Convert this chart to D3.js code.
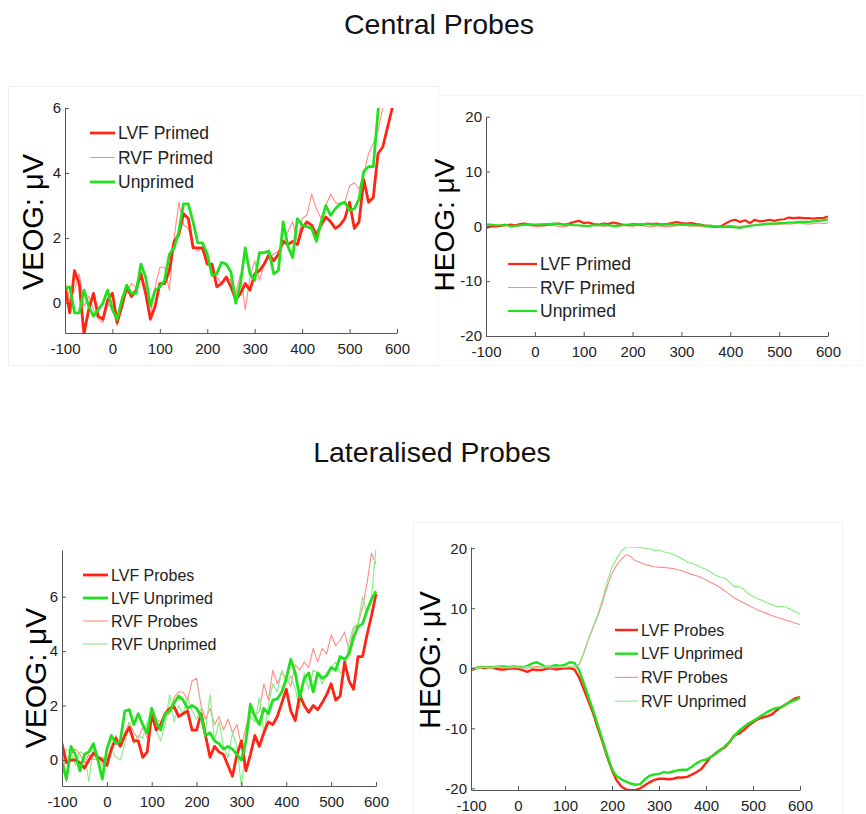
<!DOCTYPE html>
<html>
<head>
<meta charset="utf-8">
<script src="https://cdn.jsdelivr.net/npm/d3@7/dist/d3.min.js"></script>
<style>
  html, body { margin: 0; padding: 0; background: #fff; }
  svg { display: block; font-family: "Liberation Sans", Arial, Helvetica, sans-serif; }
</style>
</head>
<body>
<svg id="fig" width="866" height="814"></svg>
<script>
// Time axis (ms), sampled every 10 ms
const times = d3.range(-100, 601, 10);
const xTicks = [-100, 0, 100, 200, 300, 400, 500, 600];

// ---- Central probes, VEOG (µV) ----
const centralVeogLvfPrimed = [0.5,-0.3,1.0,0.6,-0.95,-0.2,0.3,-0.4,-0.5,0.1,
  0.3,-0.6,-0.1,0.5,0.2,0.4,0.9,0.3,-0.5,-0.1,
  0.6,0.6,1.0,1.9,2.1,2.75,2.6,1.7,1.7,1.7,
  1.2,1.2,0.5,0.6,0.8,0.5,0.1,0.3,0.6,0.4,
  0.9,1.0,1.2,1.5,1.3,1.5,1.9,1.8,1.9,1.8,
  2.3,2.5,2.4,2.1,2.4,2.65,2.5,2.3,2.4,2.6,
  3.1,2.3,2.5,3.8,3.1,3.25,4.6,4.8,5.4,6.0,
  6.6];
const centralVeogRvfPrimed = [0.7,0.1,0.4,0.9,-0.1,0.2,-0.2,-0.5,-0.6,0.0,
  -0.2,-0.7,0.2,0.3,0.6,0.5,1.0,0.4,-0.4,0.5,
  1.1,1.1,0.4,2.0,3.1,2.4,2.3,1.8,1.6,1.7,
  1.4,1.0,0.8,0.6,0.8,0.7,0.3,0.9,-0.2,0.8,
  1.3,0.7,1.2,1.4,1.5,1.6,1.8,2.2,2.5,1.9,
  2.6,2.7,3.35,2.9,2.6,3.0,3.35,3.1,3.0,3.1,
  3.6,3.7,3.5,4.0,4.6,4.9,5.3,6.0,6.6,7.1,
  7.5];
const centralVeogUnprimed = [0.45,0.5,-0.3,-0.3,0.4,-0.1,-0.4,-0.2,0.0,0.4,
  -0.2,-0.5,0.1,0.55,0.3,0.3,1.2,0.8,-0.1,0.4,
  0.5,0.7,1.5,1.7,2.2,3.05,3.05,2.5,1.85,1.85,
  1.5,0.85,0.9,1.25,1.2,0.95,0.0,0.6,1.7,0.9,
  0.7,1.55,1.55,1.6,0.9,1.0,2.5,1.75,1.4,2.6,
  2.4,2.35,2.3,1.9,2.5,3.0,2.7,2.9,3.05,3.1,
  2.85,2.9,3.2,4.05,4.2,4.2,5.9,7.0,7.8,8.3,
  8.7];

// ---- Central probes, HEOG (µV) ----
const centralHeogLvfPrimed = [-0.3,0,0,0.1,0.2,0.3,0.2,0.4,0.5,0.3,
  0.2,0.3,0.2,0.4,0.4,0.5,0.3,0.5,0.8,1.0,
  0.6,0.7,0.4,0.3,0.5,0.4,0.7,0.5,0.3,0.2,
  0.4,0.3,0.3,0.5,0.4,0.5,0.3,0.4,0.6,0.8,
  0.6,0.5,0.6,0.4,0.3,0.1,0.1,-0.1,0,0.5,
  1.0,1.2,0.8,1.1,0.6,1.2,0.9,1.0,1.2,1.0,
  1.2,1.3,1.6,1.5,1.6,1.5,1.5,1.4,1.5,1.5,
  1.8];
const centralHeogRvfPrimed = [0.1,0,-0.1,0.1,0.2,0.1,0,0.1,0.2,0.1,
  0,-0.1,0.1,0.2,0.1,0,-0.1,0.1,0.2,0.1,
  0,0.1,0.2,0.1,0,0.1,0.2,0.1,0.2,0.1,
  0,0.2,0.1,0,-0.1,0.1,0,-0.1,0,0.1,
  0.2,0.1,0,0.1,0,-0.1,-0.2,-0.1,0,0.1,
  0.2,0.1,0,0.1,0.2,0.3,0.2,0.3,0.4,0.3,
  0.4,0.5,0.4,0.5,0.6,0.5,0.4,0.5,0.6,0.5,
  0.6];
const centralHeogUnprimed = [0.3,0.3,0.2,0.2,0.3,0,0.1,0.2,0.3,0.3,
  0.3,0.3,0.4,0.4,0.5,0.4,0.3,0.3,0.2,0.2,
  0.1,0.1,0.2,0.2,0.3,0.2,0.1,0.1,0.2,0.3,
  0.3,0.3,0.4,0.4,0.3,0.3,0.4,0.3,0.3,0.3,
  0.3,0.3,0.3,0.2,0.2,0.1,0.1,0,-0.1,-0.1,
  -0.1,-0.2,-0.3,-0.1,0.1,0.2,0.3,0.4,0.5,0.5,
  0.6,0.6,0.7,0.7,0.8,0.8,0.8,0.9,1.0,1.1,
  1.3];

// ---- Lateralised probes, VEOG (µV) ----
const latVeogLvfProbes = [0.6,-0.1,0.0,0.0,-0.1,-0.3,0.0,0.25,0.1,0.0,
  -0.2,0.4,0.8,0.5,0.9,1.2,0.7,0.7,0.1,0.3,
  1.7,1.1,1.3,1.7,1.9,1.95,1.6,1.7,1.8,1.1,
  1.1,1.7,0.9,0.1,0.5,0.3,0.2,-0.2,-0.6,0.2,
  0.7,-0.4,0.2,0.9,0.5,1.0,1.4,1.3,1.6,2.1,
  2.6,1.8,1.45,2.4,2.0,1.75,2.0,1.85,2.1,2.4,
  2.8,2.2,2.35,3.6,2.9,2.6,3.8,3.8,4.6,5.3,
  6.1];
const latVeogLvfUnprimed = [-0.1,-0.7,0.5,0.2,-0.4,0.2,0.3,0.6,0.0,-0.7,
  0.4,0.9,0.6,0.7,1.8,1.85,1.3,1.7,1.3,1.0,
  1.9,1.4,1.1,1.7,1.8,2.1,2.35,2.2,1.9,2.0,
  1.9,1.6,0.9,1.0,0.7,0.6,0.4,0.5,0.4,0.2,
  0.0,0.7,2.05,1.6,1.3,1.9,1.7,2.2,2.25,2.5,
  3.0,3.7,3.2,2.3,3.0,3.2,2.5,3.2,3.0,3.1,
  3.4,3.3,3.8,3.7,3.9,4.5,4.9,5.0,5.5,5.9,
  6.2];
const latVeogRvfProbes = [0.5,-0.8,0.2,0.4,0.2,-0.1,0.2,0.0,0.1,0.1,
  0.0,0.3,0.9,0.5,1.0,1.4,1.0,0.8,1.2,0.8,
  1.7,1.5,1.4,1.6,1.7,2.3,2.5,2.5,2.2,2.9,
  3.0,2.0,1.5,1.9,1.3,1.6,1.1,1.5,1.0,1.3,
  0.5,1.2,1.8,1.6,1.8,2.8,2.2,3.3,2.8,3.2,
  3.0,2.7,3.5,3.3,3.6,3.4,4.1,3.6,4.1,3.9,
  4.6,4.2,4.4,4.7,4.0,4.8,5.0,5.6,6.5,7.6,
  7.2];
const latVeogRvfUnprimed = [-0.5,0.4,0.3,-0.2,0.3,0.2,-0.8,0.5,0.2,-0.2,
  0.1,0.4,0.1,0.0,0.6,1.4,0.6,0.9,0.8,1.4,
  1.5,1.1,0.7,1.3,2.4,1.4,2.0,1.7,2.3,1.8,
  1.5,1.9,1.1,2.4,0.7,1.4,0.5,0.1,1.0,0.5,
  -1.0,0.6,1.6,1.4,2.3,1.0,2.0,2.8,2.5,3.3,
  2.8,3.1,2.6,1.9,3.2,2.6,3.3,3.2,2.8,3.2,
  3.4,3.6,3.2,3.3,4.3,4.9,5.0,6.0,5.4,6.0,
  7.8];

// ---- Lateralised probes, HEOG (µV) ----
const latHeogLvfProbes = [-0.3,0,0.2,0,0.2,0,-0.2,-0.2,-0.1,0,
  -0.1,-0.3,-0.6,-0.2,-0.3,-0.3,-0.1,0,-0.2,-0.1,
  0,0,-0.2,-1.5,-3.5,-5.5,-7.5,-10,-12.3,-14.8,
  -17,-18.7,-19.7,-20.2,-20.3,-20.3,-20,-19.5,-19,-18.6,
  -18.4,-18.4,-18.5,-18.4,-18.2,-18.2,-18.1,-17.7,-17.3,-16.8,
  -15.8,-14.8,-14.2,-13.6,-13.2,-12.3,-11.2,-10.9,-10.3,-9.6,
  -9,-8.5,-8.2,-8,-7.7,-7,-6.5,-6,-5.5,-5,
  -4.8];
const latHeogLvfUnprimed = [-0.2,0,0.2,0.2,0.1,0.2,0.3,0.3,0.2,0.3,
  0.2,0.2,0.4,0.8,1.0,0.6,0.2,0.3,0.5,0.4,
  0.6,1.0,0.9,-0.3,-2.5,-4.8,-7,-9.5,-12,-14.5,
  -16.8,-18,-18.5,-18.9,-19.2,-19.4,-19.3,-18.5,-17.9,-17.7,
  -17.6,-17.3,-17.4,-17.2,-17,-16.9,-16.9,-16.4,-15.8,-15.4,
  -15.2,-14.8,-14.3,-13.7,-13,-12.3,-11.3,-10.4,-9.8,-9.2,
  -8.8,-8.3,-7.8,-7.3,-6.9,-6.6,-6.5,-6.0,-5.6,-5.3,
  -4.9];
const latHeogRvfProbes = [0,0.1,0.2,0.1,0,0.1,0.2,0.1,0,0.1,
  0.2,0.1,0,0.2,0.3,0.2,0.1,0,0.1,0.2,
  0.1,0.2,0.2,0.5,2.5,4.8,6.8,8.7,11,13.7,
  15.8,17.2,18.2,18.9,18.6,17.9,17.6,17.3,17.1,16.9,
  16.8,16.8,16.7,16.6,16.4,16.2,15.9,15.6,15.4,15.1,
  14.7,14.3,13.9,13.4,12.9,12.3,11.7,11.3,10.9,10.5,
  10.1,9.7,9.4,9.1,8.8,8.5,8.3,8.0,7.8,7.5,
  7.3];
const latHeogRvfUnprimed = [-0.2,0,0.1,0.2,0.1,0.2,0.3,0.1,0.2,0.3,
  0.1,0.2,0.3,0.2,0.1,0.2,0.4,0.3,0.2,0.3,
  0.2,0.3,0.4,0.7,2.7,5.0,7.0,9.0,11.5,14.5,
  16.8,18.3,19.5,20.2,20.2,20.2,20.1,20.0,19.9,19.6,
  19.7,19.4,19.2,19.0,18.6,18.2,17.7,17.5,17.2,16.8,
  16.5,16.0,15.5,15.2,15.0,14.4,13.6,13.6,13.2,12.4,
  12.0,11.6,11.3,10.9,10.6,10.3,10.3,10.2,9.8,9.4,
  9.0];

// Line styles
const RED = "#ff2414", PINK = "#ff8c86", GREEN = "#22e01e", LGREEN = "#86ec82";
const thick = 2.8, thin = 1.1;

const svg = d3.select("#fig");

// Faint frames around three of the panels
[[8, 86, 430, 279, "#efefef"], [438, 95, 424, 270, "#f5f5f5"], [413, 522, 429, 292, "#f2f2f2"]]
  .forEach(([x, y, w, h, c]) => svg.append("rect").attr("x", x + 0.5).attr("y", y + 0.5)
    .attr("width", w).attr("height", h).attr("fill", "none").attr("stroke", c));

// Section titles
svg.append("text").attr("x", 439).attr("y", 34).attr("text-anchor", "middle")
  .attr("font-size", 28.5).attr("fill", "#111").text("Central Probes");
svg.append("text").attr("x", 432).attr("y", 462).attr("text-anchor", "middle")
  .attr("font-size", 28.5).attr("fill", "#111").text("Lateralised Probes");

const panels = [
  { id: "p1", x0: 65, x1: 397, yTop: 108, yBot: 333, dom: [-0.92, 6], yTicks: [0, 2, 4, 6],
    ylab: "VEOG: \u03bcV", ylx: 33, yly: 222, ylSize: 29,
    leg: { lx0: 90, lx1: 115, ty: 133, dy: 24.5, size: 17.5 },
    series: [
      { name: "LVF Primed", v: centralVeogLvfPrimed, c: RED, w: thick },
      { name: "RVF Primed", v: centralVeogRvfPrimed, c: PINK, w: thin },
      { name: "Unprimed", v: centralVeogUnprimed, c: GREEN, w: thick }],
    order: [1, 0, 2] },
  { id: "p2", x0: 486, x1: 828, yTop: 116.7, yBot: 336, dom: [-20, 20], yTicks: [-20, -10, 0, 10, 20],
    ylab: "HEOG: \u03bcV", ylx: 444, yly: 225, ylSize: 28,
    leg: { lx0: 508, lx1: 537, ty: 264, dy: 23.5, size: 17.5 },
    series: [
      { name: "LVF Primed", v: centralHeogLvfPrimed, c: RED, w: 2.2 },
      { name: "RVF Primed", v: centralHeogRvfPrimed, c: PINK, w: thin },
      { name: "Unprimed", v: centralHeogUnprimed, c: GREEN, w: 2.2 }],
    order: [1, 0, 2] },
  { id: "p3", x0: 62, x1: 376, yTop: 550, yBot: 786, dom: [-0.955, 7.715], yTicks: [0, 2, 4, 6],
    ylab: "VEOG: \u03bcV", ylx: 35, yly: 678, ylSize: 30,
    leg: { lx0: 83, lx1: 108, ty: 575, dy: 23, size: 16 },
    series: [
      { name: "LVF Probes", v: latVeogLvfProbes, c: RED, w: thick },
      { name: "LVF Unprimed", v: latVeogLvfUnprimed, c: GREEN, w: thick },
      { name: "RVF Probes", v: latVeogRvfProbes, c: PINK, w: thin },
      { name: "RVF Unprimed", v: latVeogRvfUnprimed, c: LGREEN, w: thin }],
    order: [2, 3, 0, 1] },
  { id: "p4", x0: 471, x1: 800, yTop: 547, yBot: 790, dom: [-20.28, 20.2], yTicks: [-20, -10, 0, 10, 20],
    ylab: "HEOG: \u03bcV", ylx: 430, yly: 660, ylSize: 29,
    leg: { lx0: 615, lx1: 638, ty: 630, dy: 23.7, size: 16 },
    series: [
      { name: "LVF Probes", v: latHeogLvfProbes, c: RED, w: 2.4 },
      { name: "LVF Unprimed", v: latHeogLvfUnprimed, c: GREEN, w: 2.4 },
      { name: "RVF Probes", v: latHeogRvfProbes, c: PINK, w: thin },
      { name: "RVF Unprimed", v: latHeogRvfUnprimed, c: LGREEN, w: thin }],
    order: [0, 1, 2, 3] }
];

// Plain integer labels with an ASCII hyphen for negatives
const intLabel = d => String(d);

panels.forEach(p => {
  const x = d3.scaleLinear().domain([-100, 600]).range([p.x0, p.x1]);
  const y = d3.scaleLinear().domain(p.dom).range([p.yBot, p.yTop]);
  const g = svg.append("g");

  g.append("clipPath").attr("id", "clip-" + p.id).append("rect")
    .attr("x", p.x0).attr("y", p.yTop).attr("width", p.x1 - p.x0 + 2).attr("height", p.yBot - p.yTop);

  const line = d3.line().x((d, i) => x(times[i])).y(d => y(d));
  const lines = g.append("g").attr("clip-path", `url(#clip-${p.id})`);
  p.order.forEach(k => {
    const s = p.series[k];
    lines.append("path").datum(s.v).attr("d", line).attr("fill", "none")
      .attr("stroke", s.c).attr("stroke-width", s.w).attr("stroke-linejoin", "round");
  });

  // Axes (inward ticks)
  const xAxis = g.append("g").attr("transform", `translate(0,${p.yBot})`)
    .call(d3.axisBottom(x).tickValues(xTicks).tickFormat(intLabel)
      .tickSizeInner(-4).tickSizeOuter(0).tickPadding(10));
  const yAxis = g.append("g").attr("transform", `translate(${p.x0},0)`)
    .call(d3.axisLeft(y).tickValues(p.yTicks).tickFormat(intLabel)
      .tickSizeInner(-4).tickSizeOuter(0).tickPadding(4));
  [xAxis, yAxis].forEach(a => {
    a.select(".domain").attr("stroke", "#555");
    a.selectAll(".tick line").attr("stroke", "#555");
    a.selectAll(".tick text").attr("font-size", 15).attr("fill", "#222")
      .attr("font-family", '"Liberation Sans", Arial, sans-serif');
  });

  // Y axis title
  g.append("text").attr("transform", `translate(${p.ylx},${p.yly}) rotate(-90)`)
    .attr("text-anchor", "middle").attr("dominant-baseline", "central")
    .attr("font-size", p.ylSize).attr("fill", "#000").text(p.ylab);

  // Legend
  const lg = g.append("g");
  p.series.forEach((s, i) => {
    const ty = p.leg.ty + i * p.leg.dy;
    lg.append("line").attr("x1", p.leg.lx0).attr("x2", p.leg.lx1).attr("y1", ty).attr("y2", ty)
      .attr("stroke", s.c).attr("stroke-width", s.w);
    lg.append("text").attr("x", p.leg.lx1 + 3).attr("y", ty).attr("dominant-baseline", "central")
      .attr("font-size", p.leg.size).attr("fill", "#222").text(s.name);
  });
});
</script>
</body>
</html>
